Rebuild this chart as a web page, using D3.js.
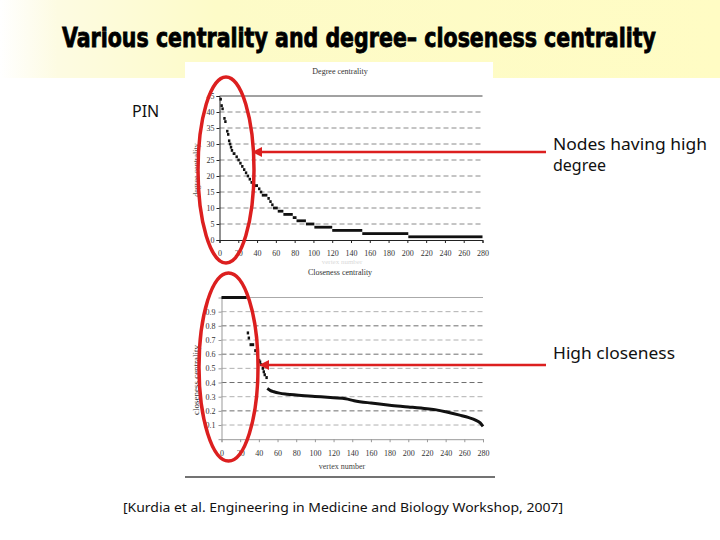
<html>
<head>
<meta charset="utf-8"/>
<title>Various centrality and degree - closeness centrality</title>
<script src="https://d3js.org/d3.v7.min.js"></script>
<style>
  body { margin: 0; background: #fff; }
  svg { display: block; }
  .lab { font-family: "Noto Sans", "DejaVu Sans", sans-serif; fill: #111; }
  .ax { color: #333; }
  .ax text { font-family: "Liberation Serif", "DejaVu Serif", serif; font-size: 8px; fill: #333; }
</style>
</head>
<body>
<script>
// degree centrality, sorted: each degree value and how many nodes have it
var degreeValues = [44, 42, 41, 38, 37, 34, 33, 31, 30, 29, 28, 27, 26, 25, 24, 23, 22, 21, 20, 19,
                    18, 17, 16, 15, 14, 13, 12, 11, 10, 9, 8, 7, 6, 5, 4, 3, 2, 1];
var degreeCounts = [1, 1, 2, 1, 2, 1, 1, 1, 1, 1, 2, 3, 2, 2, 2, 2, 2, 2, 2, 2,
                    2, 6, 2, 2, 6, 2, 2, 2, 5, 6, 10, 4, 10, 9, 19, 32, 49, 79];

// closeness centrality, head of the sorted list (value, number of nodes)
var closenessValues = [1.0, 0.75, 0.714, 0.667, 0.625, 0.6, 0.556, 0.545, 0.526, 0.5, 0.476, 0.455, 0.435];
var closenessCounts = [27, 1, 2, 5, 2, 2, 1, 1, 2, 1, 1, 2, 1];
// closeness centrality, dense tail read as a curve (vertex number, value)
var tailRank  = [49, 52, 56, 62, 70, 80, 100, 120, 133, 142, 160, 180, 200, 220, 230, 240, 255, 265, 272, 277, 280];
var tailValue = [0.357, 0.345, 0.335, 0.325, 0.318, 0.312, 0.302, 0.292, 0.285, 0.272, 0.255, 0.24, 0.228,
                 0.215, 0.207, 0.194, 0.17, 0.152, 0.135, 0.115, 0.09];

var xTicks = d3.range(0, 281, 20);
var degreeTicks = d3.range(0, 46, 5);
var closenessTicks = [0.1, 0.2, 0.3, 0.4, 0.5, 0.6, 0.7, 0.8, 0.9];

var red = "#dc1f1f";

var svg = d3.select("body").append("svg").attr("width", 720).attr("height", 540);

// yellow header band
var defs = svg.append("defs");
var grad = defs.append("linearGradient").attr("id", "band");
grad.append("stop").attr("offset", "0%").attr("stop-color", "#ffffff");
grad.append("stop").attr("offset", "8%").attr("stop-color", "#fdfbe2");
grad.append("stop").attr("offset", "30%").attr("stop-color", "#fdfbc8");
grad.append("stop").attr("offset", "100%").attr("stop-color", "#fffcc4");
svg.append("rect").attr("x", 0).attr("y", 0).attr("width", 720).attr("height", 78).attr("fill", "url(#band)");

svg.append("text")
    .attr("transform", "translate(359,47) scale(1,1.3)")
    .attr("text-anchor", "middle")
    .attr("textLength", 594).attr("lengthAdjust", "spacingAndGlyphs")
    .style("font-family", "'DejaVu Sans Condensed', 'Liberation Sans Narrow', 'DejaVu Sans', sans-serif")
    .style("font-weight", "bold").style("font-size", "21px").style("fill", "#000")
    .style("stroke", "#000").style("stroke-width", "0.6px")
    .text("Various centrality and degree– closeness centrality");

// white picture holding both charts
svg.append("rect").attr("x", 185).attr("y", 62).attr("width", 308).attr("height", 415).attr("fill", "#fff");

// ---------- degree chart ----------
var xD = d3.scaleLinear().domain([0, 280]).range([219.5, 482.5]);
var yD = d3.scaleLinear().domain([0, 45]).range([240, 96]);

var gD = svg.append("g");
gD.selectAll("line.grid").data(degreeTicks.filter(function (d) { return d > 0 && d < 45; }))
    .enter().append("line")
    .attr("x1", xD(0)).attr("x2", xD(280))
    .attr("y1", function (d) { return yD(d); }).attr("y2", function (d) { return yD(d); })
    .attr("stroke", "#8a8a8a").attr("stroke-dasharray", "5,3");
gD.append("line").attr("x1", xD(0)).attr("x2", xD(280)).attr("y1", yD(45)).attr("y2", yD(45))
    .attr("stroke", "#444");

gD.append("g").attr("class", "ax").attr("transform", "translate(" + xD(0) + ",0)")
    .call(d3.axisLeft(yD).tickValues(degreeTicks).tickSize(3).tickPadding(2).tickFormat(d3.format("d")))
    .call(function (g) { g.selectAll("path,line").attr("stroke", "#222"); });
gD.append("g").attr("class", "ax").attr("transform", "translate(0," + yD(0) + ")")
    .call(d3.axisBottom(xD).tickValues(xTicks).tickSize(3).tickPadding(7).tickFormat(d3.format("d")))
    .call(function (g) { g.selectAll("path,line").attr("stroke", "#222"); });

var degreeRuns = [], start = 0;
degreeValues.forEach(function (v, i) {
    degreeRuns.push({v: v, s: start, n: degreeCounts[i]});
    start += degreeCounts[i];
});
gD.selectAll("rect.pt").data(degreeRuns).enter().append("rect")
    .attr("x", function (d) { return xD(d.s); })
    .attr("width", function (d) { return Math.max(xD(d.n) - xD(0), 2.4); })
    .attr("y", function (d) { return yD(d.v) - 1.4; })
    .attr("height", 2.8).attr("fill", "#111");

svg.append("text").attr("x", 340).attr("y", 74).attr("text-anchor", "middle")
    .style("font-family", "'Liberation Serif', serif").style("font-size", "8px").style("fill", "#333")
    .text("Degree centrality");
svg.append("text").attr("transform", "translate(199,170) rotate(-90)").attr("text-anchor", "middle")
    .style("font-family", "'Liberation Serif', serif").style("font-size", "8px").style("fill", "#555")
    .text("degree centrality");
svg.append("text").attr("x", 342).attr("y", 264).attr("text-anchor", "middle")
    .style("font-family", "'Liberation Serif', serif").style("font-size", "7px").style("fill", "#dadada")
    .text("vertex number");

// ---------- closeness chart ----------
var xC = d3.scaleLinear().domain([0, 280]).range([221.5, 483]);
var yC = d3.scaleLinear().domain([0, 1]).range([439.2, 297.5]);

var gC = svg.append("g");
gC.selectAll("line.grid").data(closenessTicks).enter().append("line")
    .attr("x1", xC(0)).attr("x2", xC(280))
    .attr("y1", function (d) { return yC(d); }).attr("y2", function (d) { return yC(d); })
    .attr("stroke", function (d, i) { return i % 2 ? "#6e6e6e" : "#b0b0b0"; })
    .attr("stroke-dasharray", "5,3");
gC.append("line").attr("x1", xC(0)).attr("x2", xC(280)).attr("y1", yC(1)).attr("y2", yC(1))
    .attr("stroke", "#aaa");

gC.append("g").attr("class", "ax").attr("transform", "translate(" + xC(0) + ",0)")
    .call(d3.axisLeft(yC).tickValues(closenessTicks).tickSize(3).tickPadding(3).tickFormat(d3.format(".1f")))
    .call(function (g) { g.selectAll("path,line").attr("stroke", "#999"); });
gC.append("g").attr("class", "ax").attr("transform", "translate(0," + yC(0) + ")")
    .call(d3.axisBottom(xC).tickValues(xTicks).tickSize(3).tickPadding(8).tickFormat(d3.format("d")))
    .call(function (g) { g.selectAll("path,line").attr("stroke", "#999"); });

var closenessRuns = [];
start = 0;
closenessValues.forEach(function (v, i) {
    closenessRuns.push({v: v, s: start, n: closenessCounts[i]});
    start += closenessCounts[i];
});
gC.selectAll("rect.pt").data(closenessRuns).enter().append("rect")
    .attr("x", function (d) { return xC(d.s); })
    .attr("width", function (d) { return Math.max(xC(d.n) - xC(0), 2.4); })
    .attr("y", function (d) { return yC(d.v) - 1.5; })
    .attr("height", 3).attr("fill", "#111");

var tail = tailRank.map(function (r, i) { return [r, tailValue[i]]; });
gC.append("path").datum(tail)
    .attr("d", d3.line().x(function (d) { return xC(d[0]); }).y(function (d) { return yC(d[1]); }).curve(d3.curveMonotoneX))
    .attr("fill", "none").attr("stroke", "#111").attr("stroke-width", 3);

svg.append("text").attr("x", 340).attr("y", 275).attr("text-anchor", "middle")
    .style("font-family", "'Liberation Serif', serif").style("font-size", "8px").style("fill", "#333")
    .text("Closeness centrality");
svg.append("text").attr("transform", "translate(199,380) rotate(-90)").attr("text-anchor", "middle")
    .style("font-family", "'Liberation Serif', serif").style("font-size", "9px").style("fill", "#333")
    .text("closeness centrality");
svg.append("text").attr("x", 342).attr("y", 469).attr("text-anchor", "middle")
    .style("font-family", "'Liberation Serif', serif").style("font-size", "8px").style("fill", "#444")
    .text("vertex number");
svg.append("line").attr("x1", 185).attr("x2", 495).attr("y1", 477).attr("y2", 477)
    .attr("stroke", "#444").attr("stroke-width", 1.5);

// ---------- annotations ----------
svg.append("ellipse").attr("cx", 226).attr("cy", 170).attr("rx", 28).attr("ry", 93)
    .attr("fill", "none").attr("stroke", red).attr("stroke-width", 3.5);
svg.append("ellipse").attr("cx", 228.5).attr("cy", 367).attr("rx", 29.5).attr("ry", 94)
    .attr("fill", "none").attr("stroke", red).attr("stroke-width", 3.5);

function arrow(x1, x2, y) {
    svg.append("line").attr("x1", x1).attr("x2", x2 + 8).attr("y1", y).attr("y2", y)
        .attr("stroke", red).attr("stroke-width", 2.5);
    svg.append("path").attr("d", "M" + x2 + "," + y + "L" + (x2 + 10) + "," + (y - 5) + "L" + (x2 + 10) + "," + (y + 5) + "Z")
        .attr("fill", red);
}
arrow(546, 252, 152);
arrow(546, 259, 365);

svg.append("text").attr("class", "lab").attr("x", 132).attr("y", 117).style("font-size", "16px").text("PIN");
svg.append("text").attr("class", "lab").attr("x", 553).attr("y", 150).style("font-size", "16px")
    .attr("textLength", 154).attr("lengthAdjust", "spacingAndGlyphs").text("Nodes having high");
svg.append("text").attr("class", "lab").attr("x", 553).attr("y", 171).style("font-size", "16px").text("degree");
svg.append("text").attr("class", "lab").attr("x", 553).attr("y", 359).style("font-size", "16px")
    .attr("textLength", 122).attr("lengthAdjust", "spacingAndGlyphs").text("High closeness");
svg.append("text").attr("class", "lab").attr("x", 123).attr("y", 512).style("font-size", "13px")
    .attr("textLength", 440).attr("lengthAdjust", "spacingAndGlyphs")
    .text("[Kurdia et al.  Engineering in Medicine and Biology Workshop, 2007]");
</script>
</body>
</html>
